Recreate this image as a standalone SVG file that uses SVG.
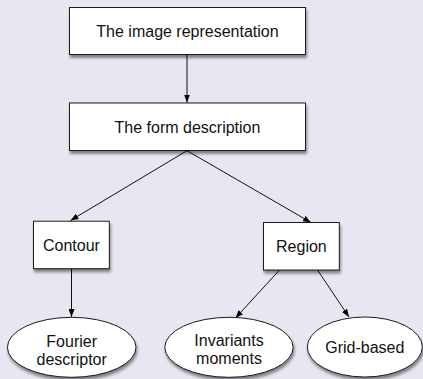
<svg xmlns="http://www.w3.org/2000/svg" width="423" height="379" viewBox="0 0 423 379">
  <defs>
    <filter id="sh" x="-20%" y="-20%" width="150%" height="160%">
      <feDropShadow dx="1" dy="3" stdDeviation="1.8" flood-color="#000" flood-opacity="0.45"/>
    </filter>
    <marker id="ah" viewBox="0 0 8 6" refX="8" refY="3" markerWidth="8" markerHeight="6" markerUnits="userSpaceOnUse" orient="auto">
      <path d="M0,0 L8,3 L0,6 z" fill="#000"/>
    </marker>
  </defs>
  <style>
    .node rect, .node ellipse { fill: #ffffff; stroke: #1a1a1a; stroke-width: 1; filter: url(#sh); }
    .node text { font-family: "Liberation Sans", Arial, sans-serif; font-size: 16px; fill: #111; text-anchor: middle; }
    .edges line { stroke: #111; stroke-width: 1; marker-end: url(#ah); }
  </style>
  <rect x="0" y="0" width="423" height="379" fill="#e7e7f1"/>

  <g class="edges" id="connectors">
    <line x1="187" y1="54.5" x2="187" y2="102.5"/>
    <line x1="187" y1="150.7" x2="70.5" y2="220.5"/>
    <line x1="187" y1="150.7" x2="311" y2="222.5"/>
    <line x1="71.5" y1="268.7" x2="71.5" y2="317"/>
    <line x1="279.5" y1="270" x2="235.5" y2="318"/>
    <line x1="317.5" y1="270" x2="349" y2="317"/>
  </g>

  <g class="node" id="image-representation">
    <rect x="69.5" y="7.5" width="236" height="47"/>
    <text x="187.5" y="36.5">The image representation</text>
  </g>
  <g class="node" id="form-description">
    <rect x="69.5" y="103" width="236" height="47.5"/>
    <text x="187.5" y="132.5">The form description</text>
  </g>
  <g class="node" id="contour">
    <rect x="33.5" y="221.2" width="75.8" height="47.5"/>
    <text x="71.4" y="250.7">Contour</text>
  </g>
  <g class="node" id="region">
    <rect x="263.5" y="222.5" width="75.8" height="47.5"/>
    <text x="301.4" y="252.2">Region</text>
  </g>
  <g class="node" id="fourier">
    <ellipse cx="71.7" cy="347.3" rx="64.3" ry="30"/>
    <text x="71.7" y="347">Fourier</text>
    <text x="71.7" y="365">descriptor</text>
  </g>
  <g class="node" id="invariants">
    <ellipse cx="229" cy="347.3" rx="64.2" ry="30"/>
    <text x="229" y="346.3">Invariants</text>
    <text x="229" y="364">moments</text>
  </g>
  <g class="node" id="grid-based">
    <ellipse cx="364.8" cy="347" rx="57.5" ry="30"/>
    <text x="364.8" y="352.5">Grid-based</text>
  </g>
</svg>
